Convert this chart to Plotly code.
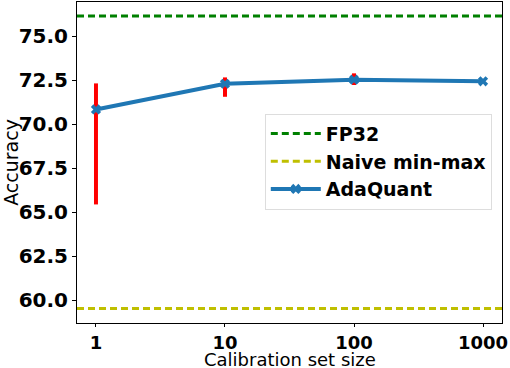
import plotly.graph_objects as go

# Data
calib_sizes = [1, 10, 100, 1000]
adaquant_acc = [70.83, 72.29, 72.52, 72.43]
adaquant_err_plus = [1.48, 0.36, 0.36, 0.03]
adaquant_err_minus = [5.39, 0.74, 0.30, 0.03]
fp32_acc = 76.14
naive_acc = 59.53

x_ticks = [1, 10, 100, 1000]
x_tick_labels = ["1", "10", "100", "1000"]
y_ticks = [60.0, 62.5, 65.0, 67.5, 70.0, 72.5, 75.0]
x_title = "Calibration set size"
y_title = "Accuracy"

FONT = "DejaVu Sans"
BLUE = "#1f77b4"
GREEN = "#008000"
YELLOW = "#bfbf00"

fig = go.Figure()

# error bars drawn beneath the line/markers
fig.add_trace(go.Scatter(
    x=calib_sizes, y=adaquant_acc, mode="markers",
    marker=dict(color="rgba(0,0,0,0)", size=1),
    error_y=dict(type="data", symmetric=False, array=adaquant_err_plus,
                 arrayminus=adaquant_err_minus, color="red", thickness=4, width=0),
    showlegend=False, hoverinfo="skip",
))

fig.add_trace(go.Scatter(
    x=calib_sizes, y=adaquant_acc, name="AdaQuant",
    mode="lines+markers",
    line=dict(color=BLUE, width=4),
    marker=dict(color=BLUE, symbol="x", size=9),
    legendrank=3,
))

fig.add_shape(type="line", xref="x domain", x0=0, x1=1, yref="y", y0=fp32_acc, y1=fp32_acc,
              line=dict(color=GREEN, width=3, dash="7px,4px"), showlegend=True, name="FP32",
              legendrank=1)
fig.add_shape(type="line", xref="x domain", x0=0, x1=1, yref="y", y0=naive_acc, y1=naive_acc,
              line=dict(color=YELLOW, width=3, dash="7px,4px"), showlegend=True, name="Naive min-max",
              legendrank=2)

fig.add_annotation(text=x_title, xref="paper", yref="paper", x=0.5, y=-0.115,
                   xanchor="center", yanchor="middle", showarrow=False,
                   font=dict(family=FONT, size=18, color="black"))

fig.update_layout(
    width=510, height=368,
    margin=dict(l=77, r=8, t=2, b=45),
    plot_bgcolor="white", paper_bgcolor="white",
    font=dict(family=FONT, color="black"),
    legend=dict(x=0.976, y=0.652, xanchor="right", yanchor="top",
                font=dict(family=FONT, size=19, color="black", weight="bold"),
                bordercolor="#dddddd", borderwidth=1, bgcolor="rgba(255,255,255,0.8)",
                tracegroupgap=0, itemwidth=50),
)

fig.update_xaxes(
    type="log", range=[-0.147, 3.147],
    tickvals=x_ticks, ticktext=x_tick_labels,
    tickfont=dict(family=FONT, size=18, weight="bold"),
    ticks="outside", ticklen=3, tickcolor="black",
    showgrid=False, zeroline=False, automargin=False, ticklabeloverflow="allow",
    showline=True, linecolor="black", linewidth=1, mirror=True,
)
fig.update_yaxes(
    range=[58.71, 76.93],
    tickvals=y_ticks, tickformat=".1f",
    tickfont=dict(family=FONT, size=20, weight="bold"),
    ticks="outside", ticklen=4, tickcolor="black",
    showgrid=False, zeroline=False, automargin=False, ticklabeloverflow="allow",
    showline=True, linecolor="black", linewidth=1, mirror=True,
    title=dict(text=y_title, font=dict(family=FONT, size=19)),
)

fig.write_html("out.html", config={"displayModeBar": False},
               post_script="document.body.style.margin='0px';")
